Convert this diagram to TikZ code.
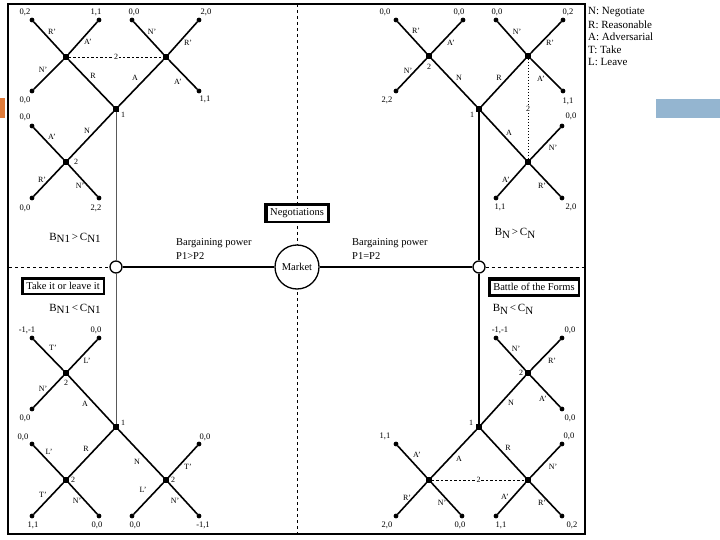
\documentclass[tikz,border=0pt]{standalone}
\usepackage{fontspec}
\setmainfont{Liberation Serif}
\definecolor{orangeC}{HTML}{E07B39}
\definecolor{blueC}{HTML}{94B5D0}
\begin{document}
\begin{tikzpicture}[x=1pt,y=-1pt,
  br/.style={line width=1.6pt},
  leaf/.style={circle,fill,inner sep=0pt,minimum size=4.8pt},
  dn/.style={rectangle,fill,inner sep=0pt,minimum size=5.5pt},
  lab/.style={font=\fontsize{8}{8}\selectfont,inner sep=0pt},
  pay/.style={font=\fontsize{8.5}{9}\selectfont,inner sep=0pt},
  txt/.style={font=\fontsize{10.5}{12}\selectfont,inner sep=0pt},
  cmp/.style={font=\fontsize{11}{12}\selectfont,inner sep=0pt},
  infoset/.style={dashed,dash pattern=on 2.5pt off 2pt,line width=0.5pt},
  dbox/.style={draw,line width=2.4pt,fill=white,inner sep=1.2pt,font=\fontsize{10.5}{11}\selectfont},
  smallc/.style={circle,draw,line width=1.3pt,fill=white,minimum size=12pt,inner sep=0pt},
  axisd/.style={dashed,dash pattern=on 3pt off 3pt,line width=0.5pt}
]
\useasboundingbox (0,0) rectangle (720,540);
\fill[orangeC] (0,98) rectangle (5,118);
\fill[blueC] (656,99) rectangle (720,118);
\draw[line width=1.3pt] (8,4) rectangle (585,534);

% legend
\node[txt,font=\fontsize{11}{12}\selectfont,anchor=west] (lg1) at (588,12) {N: Negotiate};
\node[txt,font=\fontsize{11}{12}\selectfont,anchor=west] (lg2) at (588,24.5) {R: Reasonable};
\node[txt,font=\fontsize{11}{12}\selectfont,anchor=west] (lg3) at (588,37) {A: Adversarial};
\node[txt,font=\fontsize{11}{12}\selectfont,anchor=west] (lg4) at (588,49.5) {T: Take};
\node[txt,font=\fontsize{11}{12}\selectfont,anchor=west] (lg5) at (588,62) {L: Leave};

% axes
\coordinate (vt) at (297,4);
\coordinate (vb) at (297,534);
\coordinate (hl) at (9,267);
\coordinate (hr) at (585,267);
\draw[axisd] (vt) -- (vb);
\node[smallc] (lc) at (116,267) {};
\node[smallc] (rc) at (479,267) {};
\node[circle,draw,line width=1.3pt,fill=white,minimum size=44pt,inner sep=0pt,font=\fontsize{10.5}{11}\selectfont] (mk) at (297,267) {Market};
\draw[axisd] (hl) -- (lc);
\draw[axisd] (rc) -- (hr);
\draw[line width=1.3pt] (lc) -- (mk) -- (rc);

\node[dbox] (neg) at (297,213) {\fbox{Negotiations}};
\node[dbox] (tol) at (63,286) {\fbox{Take it or leave it}};
\node[dbox] (bof) at (534,287) {\fbox{Battle of the Forms}};

\node[txt,anchor=west] (bp1) at (176,243) {Bargaining power};
\node[txt,anchor=west] (pp1) at (176,256) {P1>P2};
\node[txt,anchor=west] (bp2) at (352,243) {Bargaining power};
\node[txt,anchor=west] (pp2) at (352,256) {P1=P2};

\node[cmp] (c1) at (75,238) {B\raisebox{-2.5pt}{N1}\,>\,C\raisebox{-2.5pt}{N1}};
\node[cmp] (c2) at (75,309) {B\raisebox{-2.5pt}{N1}\,<\,C\raisebox{-2.5pt}{N1}};
\node[cmp] (c3) at (515,233) {B\raisebox{-3pt}{N}\,>\,C\raisebox{-3pt}{N}};
\node[cmp] (c4) at (513,309) {B\raisebox{-3pt}{N}\,<\,C\raisebox{-3pt}{N}};

% ===== Top-left tree =====
\node[dn] (tl1) at (116,109) {};
\node[dn] (tl2a) at (66,57) {};
\node[dn] (tl2b) at (166,57) {};
\node[dn] (tl2c) at (66,162) {};
\node[leaf] (tla1) at (32,20) {};
\node[leaf] (tla2) at (99,20) {};
\node[leaf] (tla3) at (32,91) {};
\node[leaf] (tlb1) at (132,20) {};
\node[leaf] (tlb2) at (199,20) {};
\node[leaf] (tlb3) at (199,91) {};
\node[leaf] (tlc1) at (32,126) {};
\node[leaf] (tlc2) at (32,198) {};
\node[leaf] (tlc3) at (99,198) {};
\draw[br] (tl1) -- (tl2a) (tl1) -- (tl2b) (tl1) -- (tl2c);
\draw[br] (tl2a) -- (tla1) (tl2a) -- (tla2) (tl2a) -- (tla3);
\draw[br] (tl2b) -- (tlb1) (tl2b) -- (tlb2) (tl2b) -- (tlb3);
\draw[br] (tl2c) -- (tlc1) (tl2c) -- (tlc2) (tl2c) -- (tlc3);
\draw[infoset] (tl2a) -- node[lab,fill=white,inner sep=0.5pt] {2} (tl2b);
\foreach \p/\t in {{(52,32)}/R', {(88,42)}/A', {(43,70)}/N', {(93,76)}/R, {(135,78)}/A, {(123,115)}/1,
  {(152,32)}/N', {(188,43)}/R', {(178,82)}/A', {(52,137)}/A', {(87,131)}/N, {(76,162)}/2, {(42,180)}/R', {(80,186)}/N'}
  \node[lab] at \p {\t};
\foreach \p/\t in {{(25,12)}/{0,2}, {(96,12)}/{1,1}, {(134,12)}/{0,0}, {(206,12)}/{2,0}, {(25,100)}/{0,0}, {(205,99)}/{1,1},
  {(25,117)}/{0,0}, {(25,208)}/{0,0}, {(96,208)}/{2,2}}
  \node[pay] at \p {\t};

% ===== Top-right tree =====
\node[dn] (tr1) at (479,109) {};
\node[dn] (tr2a) at (429,56) {};
\node[dn] (tr2b) at (528,56) {};
\node[dn] (tr2c) at (528,162) {};
\node[leaf] (tra1) at (396,20) {};
\node[leaf] (tra2) at (463,20) {};
\node[leaf] (tra3) at (396,91) {};
\node[leaf] (trb1) at (496,20) {};
\node[leaf] (trb2) at (563,20) {};
\node[leaf] (trb3) at (563,91) {};
\node[leaf] (trc1) at (562,126) {};
\node[leaf] (trc2) at (496,198) {};
\node[leaf] (trc3) at (562,198) {};
\draw[br] (tr1) -- (tr2a) (tr1) -- (tr2b) (tr1) -- (tr2c);
\draw[br] (tr2a) -- (tra1) (tr2a) -- (tra2) (tr2a) -- (tra3);
\draw[br] (tr2b) -- (trb1) (tr2b) -- (trb2) (tr2b) -- (trb3);
\draw[br] (tr2c) -- (trc1) (tr2c) -- (trc2) (tr2c) -- (trc3);
\draw[infoset,dash pattern=on 1.5pt off 1.5pt] (tr2b) -- node[lab,fill=white,inner sep=0.5pt] {2} (tr2c);
\foreach \p/\t in {{(416,31)}/R', {(451,43)}/A', {(408,71)}/N', {(429,67)}/2, {(459,78)}/N, {(499,78)}/R, {(472,115)}/1,
  {(517,32)}/N', {(550,43)}/R', {(541,79)}/A', {(509,133)}/A, {(553,148)}/N', {(506,180)}/A', {(542,186)}/R'}
  \node[lab] at \p {\t};
\foreach \p/\t in {{(385,12)}/{0,0}, {(459,12)}/{0,0}, {(497,12)}/{0,0}, {(568,12)}/{0,2}, {(387,100)}/{2,2}, {(568,101)}/{1,1},
  {(571,116)}/{0,0}, {(500,207)}/{1,1}, {(571,207)}/{2,0}}
  \node[pay] at \p {\t};

% ===== Bottom-left tree =====
\node[dn] (bl1) at (116,427) {};
\node[dn] (bl2) at (66,373) {};
\node[dn] (bl2a) at (66,480) {};
\node[dn] (bl2b) at (166,480) {};
\node[leaf] (bla1) at (32,338) {};
\node[leaf] (bla2) at (99,338) {};
\node[leaf] (bla3) at (32,409) {};
\node[leaf] (blb1) at (32,444) {};
\node[leaf] (blb2) at (32,516) {};
\node[leaf] (blb3) at (99,516) {};
\node[leaf] (blc1) at (132,516) {};
\node[leaf] (blc2) at (199,444) {};
\node[leaf] (blc3) at (199,516) {};
\draw[br] (bl1) -- (bl2) (bl1) -- (bl2a) (bl1) -- (bl2b);
\draw[br] (bl2) -- (bla1) (bl2) -- (bla2) (bl2) -- (bla3);
\draw[br] (bl2a) -- (blb1) (bl2a) -- (blb2) (bl2a) -- (blb3);
\draw[br] (bl2b) -- (blc1) (bl2b) -- (blc2) (bl2b) -- (blc3);
\foreach \p/\t in {{(53,348)}/T', {(87,361)}/L', {(43,389)}/N', {(66,383)}/2, {(85,404)}/A, {(123,423)}/1,
  {(49,452)}/L', {(86,449)}/R, {(73,480)}/2, {(43,495)}/T', {(77,501)}/N',
  {(137,462)}/N, {(188,467)}/T', {(173,480)}/2, {(143,490)}/L', {(175,501)}/N'}
  \node[lab] at \p {\t};
\foreach \p/\t in {{(27,330)}/{-1,-1}, {(96,330)}/{0,0}, {(25,418)}/{0,0}, {(23,437)}/{0,0}, {(205,437)}/{0,0},
  {(33,525)}/{1,1}, {(97,525)}/{0,0}, {(135,525)}/{0,0}, {(203,525)}/{-1,1}}
  \node[pay] at \p {\t};

% ===== Bottom-right tree =====
\node[dn] (br1) at (479,427) {};
\node[dn] (br2) at (528,373) {};
\node[dn] (br2a) at (429,480) {};
\node[dn] (br2b) at (528,480) {};
\node[leaf] (bra1) at (496,338) {};
\node[leaf] (bra2) at (562,338) {};
\node[leaf] (bra3) at (562,409) {};
\node[leaf] (brb1) at (396,444) {};
\node[leaf] (brb2) at (396,516) {};
\node[leaf] (brb3) at (462,516) {};
\node[leaf] (brc1) at (562,444) {};
\node[leaf] (brc2) at (496,516) {};
\node[leaf] (brc3) at (562,516) {};
\draw[br] (br1) -- (br2) (br1) -- (br2a) (br1) -- (br2b);
\draw[br] (br2) -- (bra1) (br2) -- (bra2) (br2) -- (bra3);
\draw[br] (br2a) -- (brb1) (br2a) -- (brb2) (br2a) -- (brb3);
\draw[br] (br2b) -- (brc1) (br2b) -- (brc2) (br2b) -- (brc3);
\draw[infoset] (br2a) -- node[lab,fill=white,inner sep=0.5pt] {2} (br2b);
\foreach \p/\t in {{(516,349)}/N', {(552,361)}/R', {(521,373)}/2, {(511,403)}/N, {(543,399)}/A', {(471,423)}/1,
  {(417,455)}/A', {(459,459)}/A, {(508,448)}/R, {(553,467)}/N', {(407,498)}/R', {(442,503)}/N', {(505,497)}/A', {(542,503)}/R'}
  \node[lab] at \p {\t};
\foreach \p/\t in {{(500,330)}/{-1,-1}, {(570,330)}/{0,0}, {(570,418)}/{0,0}, {(385,436)}/{1,1}, {(569,436)}/{0,0},
  {(387,525)}/{2,0}, {(460,525)}/{0,0}, {(501,525)}/{1,1}, {(572,525)}/{0,2}}
  \node[pay] at \p {\t};

% verticals
\draw[gray!70!black,line width=0.6pt] (tl1) -- (lc) -- (bl1);
\draw[line width=1.2pt] (tr1) -- (rc) -- (br1);
\end{tikzpicture}
\end{document}
